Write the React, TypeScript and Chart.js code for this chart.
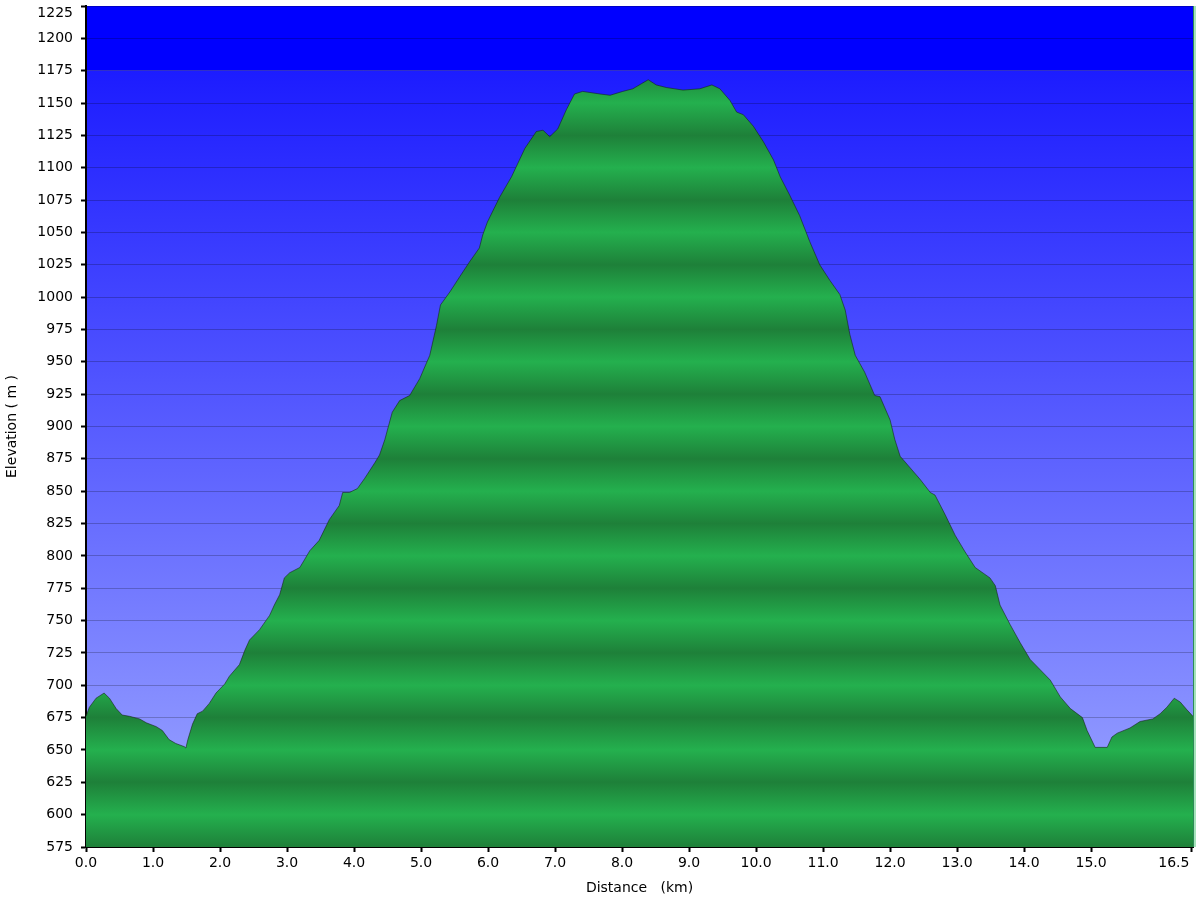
import { useEffect, useRef } from "react";
import { Chart, registerables } from "chart.js";

Chart.register(...registerables);

// Distance along the route (km)
const distanceKm = [
  0.0, 0.05, 0.15, 0.27, 0.35, 0.45, 0.54, 0.65, 0.8, 0.9, 1.05, 1.14, 1.24, 1.34, 1.47, 1.49, 1.52, 1.59, 1.66, 1.74,
  1.84, 1.94, 2.07, 2.14, 2.29, 2.37, 2.44, 2.59, 2.74, 2.81, 2.89, 2.96, 3.04, 3.19, 3.26, 3.34, 3.48, 3.63, 3.78, 3.83,
  3.93, 4.05, 4.16, 4.31, 4.38, 4.46, 4.57, 4.68, 4.83, 4.98, 5.13, 5.23, 5.29, 5.43, 5.58, 5.72, 5.87, 5.92, 5.99, 6.17,
  6.35, 6.55, 6.72, 6.82, 6.92, 7.04, 7.17, 7.29, 7.41, 7.67, 7.82, 8.01, 8.16, 8.29, 8.39, 8.51, 8.66, 8.91, 9.16, 9.34,
  9.46, 9.61, 9.71, 9.81, 9.96, 10.11, 10.26, 10.36, 10.5, 10.65, 10.8, 10.95, 11.1, 11.25, 11.33, 11.4, 11.48, 11.62,
  11.77, 11.85, 12.0, 12.07, 12.15, 12.3, 12.45, 12.6, 12.67, 12.82, 12.97, 13.12, 13.27, 13.49, 13.57, 13.64, 13.79,
  13.94, 14.09, 14.24, 14.39, 14.54, 14.69, 14.87, 14.94, 15.06, 15.24, 15.31, 15.39, 15.58, 15.73, 15.92, 16.03, 16.13,
  16.24, 16.33, 16.43, 16.52,
];

// Elevation (m)
const elevationM = [
  676, 683, 690, 694, 690, 682, 677, 676, 674, 671, 668, 665, 658, 655, 652.5, 651.5, 658, 670, 678, 680,
  686, 694, 701, 707, 716, 727, 735, 743, 754, 762, 770, 783, 787, 791, 797, 804, 812, 828, 839, 849,
  849, 852, 860, 872, 878, 890, 911, 920, 924, 937, 955, 978, 994, 1004, 1016, 1027, 1038, 1048, 1058, 1077,
  1093, 1115, 1128, 1129, 1124, 1130, 1145, 1157, 1159, 1157, 1156, 1159, 1161, 1165, 1168, 1164, 1162, 1160, 1161, 1164,
  1161, 1152, 1143, 1141, 1132, 1120, 1106, 1093, 1079, 1063, 1043, 1025, 1013, 1002, 990, 971, 955, 942,
  924, 923, 905, 890, 877, 868, 859, 849, 847, 832, 816, 803, 791, 783, 777, 762, 747,
  733, 720, 712, 704, 691, 682, 675, 665, 652, 652, 660, 663, 667, 672, 674, 678, 683,
  690, 687, 681, 676,
];

const xTickValues = [0, 1, 2, 3, 4, 5, 6, 7, 8, 9, 10, 11, 12, 13, 14, 15, 16.5];
const yMin = 575;
const yMax = 1225;
const yStep = 25;
const xMax = 16.52;
const topBandStart = 1175;

const FONT = "'DejaVu Sans', Verdana, sans-serif";

export default function App() {
  const ref = useRef<HTMLCanvasElement>(null);

  useEffect(() => {
    const canvas = ref.current;
    if (!canvas) return;

    const bgPlugin = {
      id: "bgPlugin",
      beforeDraw(chart: any) {
        const { ctx, chartArea, scales } = chart;
        if (!chartArea) return;
        const { left, right, top, bottom } = chartArea;
        const yBand = scales.y.getPixelForValue(topBandStart);
        ctx.save();
        ctx.fillStyle = "#0000ff";
        ctx.fillRect(left, top, right - left, yBand - top);
        const g = ctx.createLinearGradient(0, yBand, 0, bottom);
        g.addColorStop(0, "rgb(28,28,255)");
        g.addColorStop(1, "rgb(158,168,255)");
        ctx.fillStyle = g;
        ctx.fillRect(left, yBand, right - left, bottom - yBand);
        ctx.restore();
      },
      afterDraw(chart: any) {
        const { ctx, chartArea } = chart;
        if (!chartArea) return;
        const { right, top, bottom } = chartArea;
        ctx.save();
        ctx.fillStyle = "#2e8b57";
        ctx.fillRect(right, top, 1, bottom - top);
        ctx.fillStyle = "#a5e3bb";
        ctx.fillRect(right + 1, top, 2, bottom - top);
        ctx.restore();
      },
    };

    const greenFill = (c: any) => {
      const chart = c.chart;
      const { chartArea, scales } = chart;
      if (!chartArea || !scales.y) return "rgb(34,170,74)";
      const h = chartArea.bottom - chartArea.top;
      const g = chart.ctx.createLinearGradient(0, chartArea.top, 0, chartArea.bottom);
      for (let v = yMin; v <= yMax; v += yStep) {
        let p = (scales.y.getPixelForValue(v) - chartArea.top) / h;
        p = Math.min(1, Math.max(0, p));
        g.addColorStop(p, v % 50 === 0 ? "rgb(36,176,78)" : "rgb(30,128,57)");
      }
      return g;
    };

    const chart = new Chart(canvas, {
      type: "line",
      data: {
        datasets: [
          {
            data: distanceKm.map((d, i) => ({ x: d, y: elevationM[i] })),
            fill: "start",
            backgroundColor: greenFill,
            borderColor: "rgba(20,30,20,0.55)",
            borderWidth: 1,
            pointRadius: 0,
            tension: 0,
          },
        ],
      },
      options: {
        responsive: false,
        animation: false,
        layout: { padding: { top: 6, right: 7, left: 0, bottom: 0 } },
        plugins: { legend: { display: false }, tooltip: { enabled: false } },
        scales: {
          x: {
            type: "linear",
            min: 0,
            max: xMax,
            z: 1,
            afterBuildTicks: (s: any) => {
              s.ticks = xTickValues.map((v) => ({ value: v }));
            },
            afterFit: (s: any) => {
              s.height = 53;
              s.paddingLeft = 0;
              s.paddingRight = 0;
            },
            grid: {
              drawOnChartArea: false,
              drawTicks: true,
              tickLength: 5,
              tickColor: "#000",
              tickWidth: 2,
            },
            border: { color: "#000", width: 2 },
            ticks: {
              color: "#000",
              font: { family: FONT, size: 14 },
              padding: 3,
              maxRotation: 0,
              autoSkip: false,
              callback: (v: any) => {
                const n = Number(v);
                return n === 16.5 ? "16.5        " : n.toFixed(1);
              },
            },
            title: {
              display: true,
              text: "Distance   (km)",
              color: "#000",
              font: { family: FONT, size: 14 },
              padding: { top: 0, bottom: 3 },
            },
          },
          y: {
            type: "linear",
            min: yMin,
            max: yMax,
            z: 1,
            afterFit: (s: any) => {
              s.width = 86;
              s.paddingTop = 0;
              s.paddingBottom = 0;
            },
            grid: {
              color: "rgba(0,0,0,0.22)",
              lineWidth: 1,
              drawTicks: true,
              tickLength: 5,
              tickColor: "#000",
              tickWidth: 2,
            },
            border: { color: "#000", width: 2 },
            ticks: {
              stepSize: yStep,
              color: "#000",
              font: { family: FONT, size: 14, lineHeight: 1 },
              padding: 8,
              autoSkip: false,
              callback: (v: any) => {
                const n = Number(v);
                return n === yMax ? ["", String(n)] : String(n);
              },
            },
            title: {
              display: true,
              text: "Elevation ( m )",
              color: "#000",
              font: { family: FONT, size: 14 },
              padding: { top: 4, bottom: 0 },
            },
          },
        },
      },
      plugins: [bgPlugin],
    } as any);

    return () => chart.destroy();
  }, []);

  return (
    <div style={{ position: "fixed", left: 0, top: 0, width: 1200, height: 900, background: "#fff" }}>
      <canvas ref={ref} width={1200} height={900} style={{ display: "block" }} />
    </div>
  );
}
